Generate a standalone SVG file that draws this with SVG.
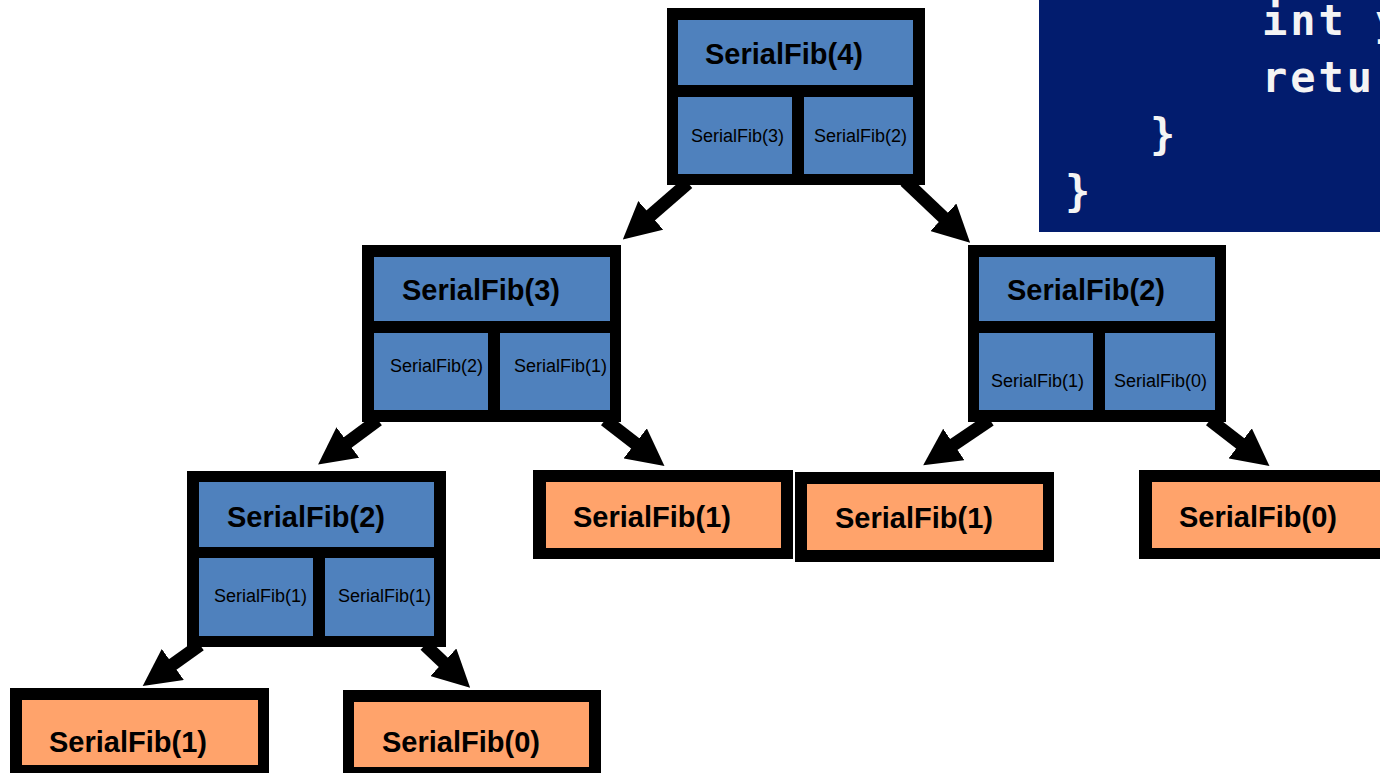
<svg xmlns="http://www.w3.org/2000/svg" width="1380" height="773" viewBox="0 0 1380 773">
<style>
.frame{fill:#000}
.blue{fill:#4F81BD}
.orange{fill:#FFA36B}
.title{font-family:"Liberation Sans",Arial,sans-serif;font-weight:bold;font-size:29px;fill:#000}
.small{font-family:"Liberation Sans",Arial,sans-serif;font-size:18px;fill:#000}
.code{font-family:"DejaVu Sans Mono","Liberation Mono",monospace;font-weight:bold;font-size:42px;letter-spacing:3px;fill:#F4F4F4}
.conn{stroke:#000;stroke-width:13;fill:none;marker-end:url(#ah)}
</style>
<defs>
<marker id="ah" markerUnits="userSpaceOnUse" markerWidth="37" markerHeight="38" viewBox="0 0 37 38" refX="1" refY="19" orient="auto">
<path d="M0,0 L37,19 L0,38 z" fill="#000"/>
</marker>
</defs>
<rect width="1380" height="773" fill="#fff"/>
<g id="code">
<rect x="1039" y="0" width="341" height="232" fill="#021C6E"/>
<text class="code" x="1262" y="35">int y</text>
<text class="code" x="1262" y="92">retur</text>
<text class="code" x="1150" y="149">}</text>
<text class="code" x="1065" y="206">}</text>
</g>
<g id="connectors">
<path class="conn" d="M688,183 L650,216"/>
<path class="conn" d="M905,181 L944,218"/>
<path class="conn" d="M378,420 L347,443"/>
<path class="conn" d="M605,420 L636,444"/>
<path class="conn" d="M990,420 L953,445"/>
<path class="conn" d="M1210,420 L1241,444"/>
<path class="conn" d="M200,645 L172,665"/>
<path class="conn" d="M425,645 L444,663"/>
</g>
<g id="fib4">
<rect class="frame" x="667" y="8" width="258" height="177"/>
<rect class="blue" x="678" y="20" width="235" height="65"/>
<rect class="blue" x="678" y="97" width="114" height="77"/>
<rect class="blue" x="804" y="97" width="109" height="77"/>
<text class="title" x="705" y="64">SerialFib(4)</text>
<text class="small" x="691" y="142">SerialFib(3)</text>
<text class="small" x="814" y="142">SerialFib(2)</text>
</g>
<g id="fib3">
<rect class="frame" x="362" y="245" width="259" height="177"/>
<rect class="blue" x="374" y="257" width="236" height="64"/>
<rect class="blue" x="374" y="333" width="114" height="77"/>
<rect class="blue" x="500" y="333" width="110" height="77"/>
<text class="title" x="402" y="300">SerialFib(3)</text>
<text class="small" x="390" y="372">SerialFib(2)</text>
<text class="small" x="514" y="372">SerialFib(1)</text>
</g>
<g id="fib2-right">
<rect class="frame" x="968" y="245" width="258" height="177"/>
<rect class="blue" x="979" y="257" width="236" height="64"/>
<rect class="blue" x="979" y="333" width="114" height="77"/>
<rect class="blue" x="1105" y="333" width="110" height="77"/>
<text class="title" x="1007" y="300">SerialFib(2)</text>
<text class="small" x="991" y="387">SerialFib(1)</text>
<text class="small" x="1114" y="387">SerialFib(0)</text>
</g>
<g id="fib2-left">
<rect class="frame" x="187" y="471" width="259" height="176"/>
<rect class="blue" x="199" y="482" width="235" height="65"/>
<rect class="blue" x="199" y="558" width="114" height="78"/>
<rect class="blue" x="325" y="558" width="109" height="78"/>
<text class="title" x="227" y="527">SerialFib(2)</text>
<text class="small" x="214" y="602">SerialFib(1)</text>
<text class="small" x="338" y="602">SerialFib(1)</text>
</g>
<g id="leaf-a">
<rect class="frame" x="10" y="688" width="259" height="89"/>
<rect class="orange" x="22" y="700" width="236" height="65"/>
<text class="title" x="49" y="752">SerialFib(1)</text>
</g>
<g id="leaf-b">
<rect class="frame" x="343" y="690" width="258" height="89"/>
<rect class="orange" x="354" y="702" width="235" height="65"/>
<text class="title" x="382" y="752">SerialFib(0)</text>
</g>
<g id="leaf-c">
<rect class="frame" x="533" y="470" width="260" height="89"/>
<rect class="orange" x="546" y="482" width="235" height="66"/>
<text class="title" x="573" y="527">SerialFib(1)</text>
</g>
<g id="leaf-d">
<rect class="frame" x="795" y="472" width="259" height="90"/>
<rect class="orange" x="807" y="484" width="236" height="66"/>
<text class="title" x="835" y="528">SerialFib(1)</text>
</g>
<g id="leaf-e">
<rect class="frame" x="1139" y="470" width="258" height="89"/>
<rect class="orange" x="1152" y="482" width="235" height="66"/>
<text class="title" x="1179" y="527">SerialFib(0)</text>
</g>
</svg>
